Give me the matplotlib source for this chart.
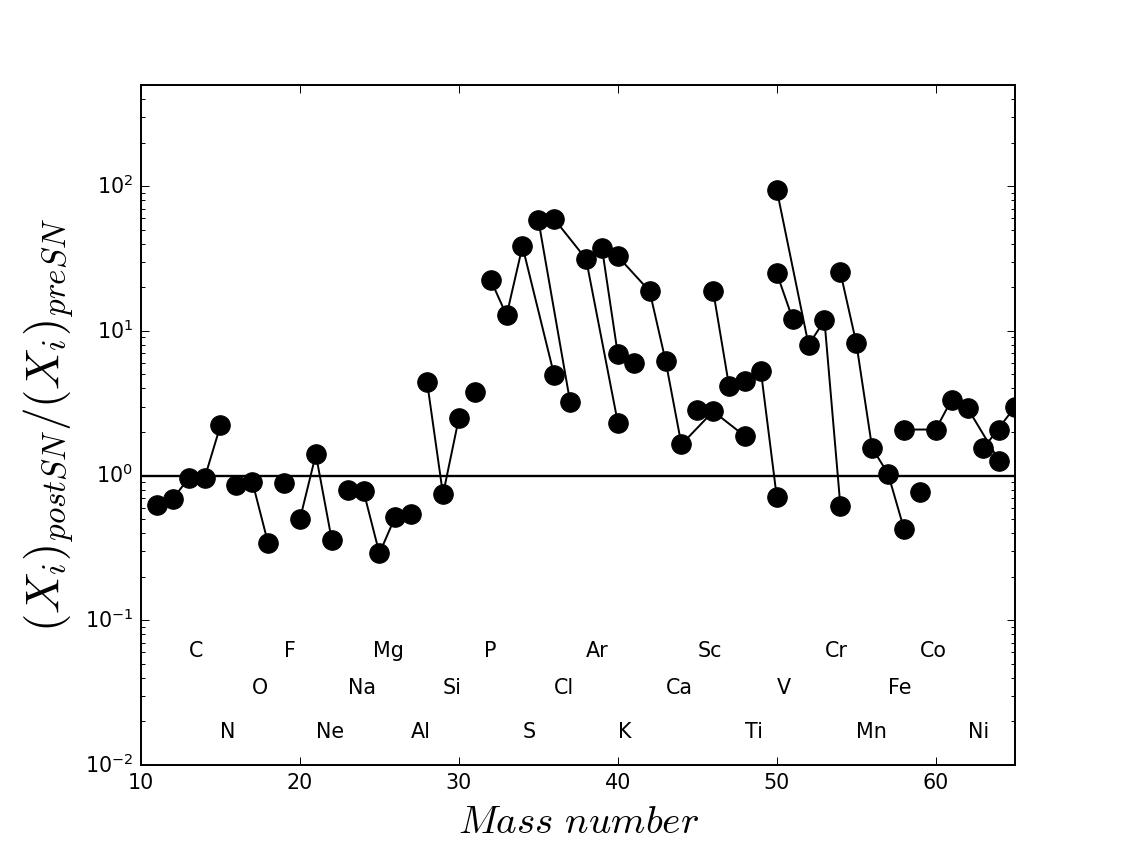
import matplotlib
matplotlib.use('Agg')
import matplotlib.pyplot as plt

# isotope ratios post-SN / pre-SN, one chain per element
a_C = [11, 12, 13];            r_C = [0.63, 0.69, 0.96]
a_N = [14, 15];                r_N = [0.96, 2.22]
a_O = [16, 17, 18];            r_O = [0.86, 0.91, 0.34]
a_F = [19];                    r_F = [0.89]
a_Ne = [20, 21, 22];           r_Ne = [0.50, 1.40, 0.36]
a_Na = [23];                   r_Na = [0.80]
a_Mg = [24, 25, 26];           r_Mg = [0.78, 0.29, 0.52]
a_Al = [27];                   r_Al = [0.54]
a_Si = [28, 29, 30];           r_Si = [4.43, 0.74, 2.5]
a_P = [31];                    r_P = [3.78]
a_S = [32, 33, 34, 36];        r_S = [22.5, 12.8, 38.4, 4.92]
a_Cl = [35, 37];               r_Cl = [58.3, 3.22]
a_Ar = [36, 38, 40];           r_Ar = [59.2, 31.4, 2.32]
a_K = [39, 40, 41];            r_K = [37.5, 6.87, 6.0]
a_Ca = [40, 42, 43, 44, 46, 48]; r_Ca = [32.7, 18.8, 6.24, 1.64, 2.78, 1.87]
a_Sc = [45];                   r_Sc = [2.86]
a_Ti = [46, 47, 48, 49, 50];   r_Ti = [18.8, 4.14, 4.5, 5.27, 0.71]
a_V = [50, 51];                r_V = [25.0, 12.1]
a_Cr = [50, 52, 53, 54];       r_Cr = [94.3, 8.0, 11.8, 0.62]
a_Fe = [54, 55, 56, 57, 58];   r_Fe = [25.4, 8.26, 1.55, 1.03, 0.43]
a_Co = [59];                   r_Co = [0.77]
a_Ni = [58, 60, 61, 62, 64];   r_Ni = [2.08, 2.08, 3.35, 2.93, 1.26]
a_Cu = [63, 65];               r_Cu = [1.54, 3.0]
a_Zn = [64];                   r_Zn = [2.05]

chains = [(a_C, r_C), (a_N, r_N), (a_O, r_O), (a_F, r_F), (a_Ne, r_Ne),
          (a_Na, r_Na), (a_Mg, r_Mg), (a_Al, r_Al), (a_Si, r_Si), (a_P, r_P),
          (a_S, r_S), (a_Cl, r_Cl), (a_Ar, r_Ar), (a_K, r_K), (a_Ca, r_Ca),
          (a_Sc, r_Sc), (a_Ti, r_Ti), (a_V, r_V), (a_Cr, r_Cr), (a_Fe, r_Fe),
          (a_Co, r_Co), (a_Ni, r_Ni), (a_Cu, r_Cu), (a_Zn, r_Zn)]

# element labels, three staggered rows
label_names = ['C', 'F', 'Mg', 'P', 'Ar', 'Sc', 'Cr', 'Co',
               'O', 'Na', 'Si', 'Cl', 'Ca', 'V', 'Fe',
               'N', 'Ne', 'Al', 'S', 'K', 'Ti', 'Mn', 'Ni']
label_x = [13, 19, 24.6, 31.6, 38, 45, 53, 59,
           17, 23, 29, 36, 43, 50, 57,
           15, 21, 27, 34, 40, 48, 55, 62]
label_y = [0.0556] * 8 + [0.031] * 7 + [0.0153] * 8

plt.style.use('classic')
plt.rcParams['font.size'] = 10.5

fig = plt.figure(figsize=(1128 / 141, 850 / 141), dpi=141, facecolor='white')
ax = fig.add_subplot(111)

for a, r in chains:
    ax.plot(a, r, 'k-o', ms=10, lw=1, mec='k', mfc='k')

ax.axhline(1, color='k', lw=1.2)

for name, x, y in zip(label_names, label_x, label_y):
    ax.text(x, y, name, ha='left', va='baseline', fontsize=10.5)

ax.set_yscale('log')
ax.set_xlim(10, 65)
ax.set_ylim(1e-2, 5e2)
ax.tick_params(labelsize=10.5)

ax.set_xlabel(r'$Mass\ number$', fontsize=20)
ax.set_ylabel(r'$(X_i)_{postSN}/(X_i)_{preSN}$', fontsize=24, labelpad=4)

fig.savefig('out.png', dpi=141, facecolor='white')
